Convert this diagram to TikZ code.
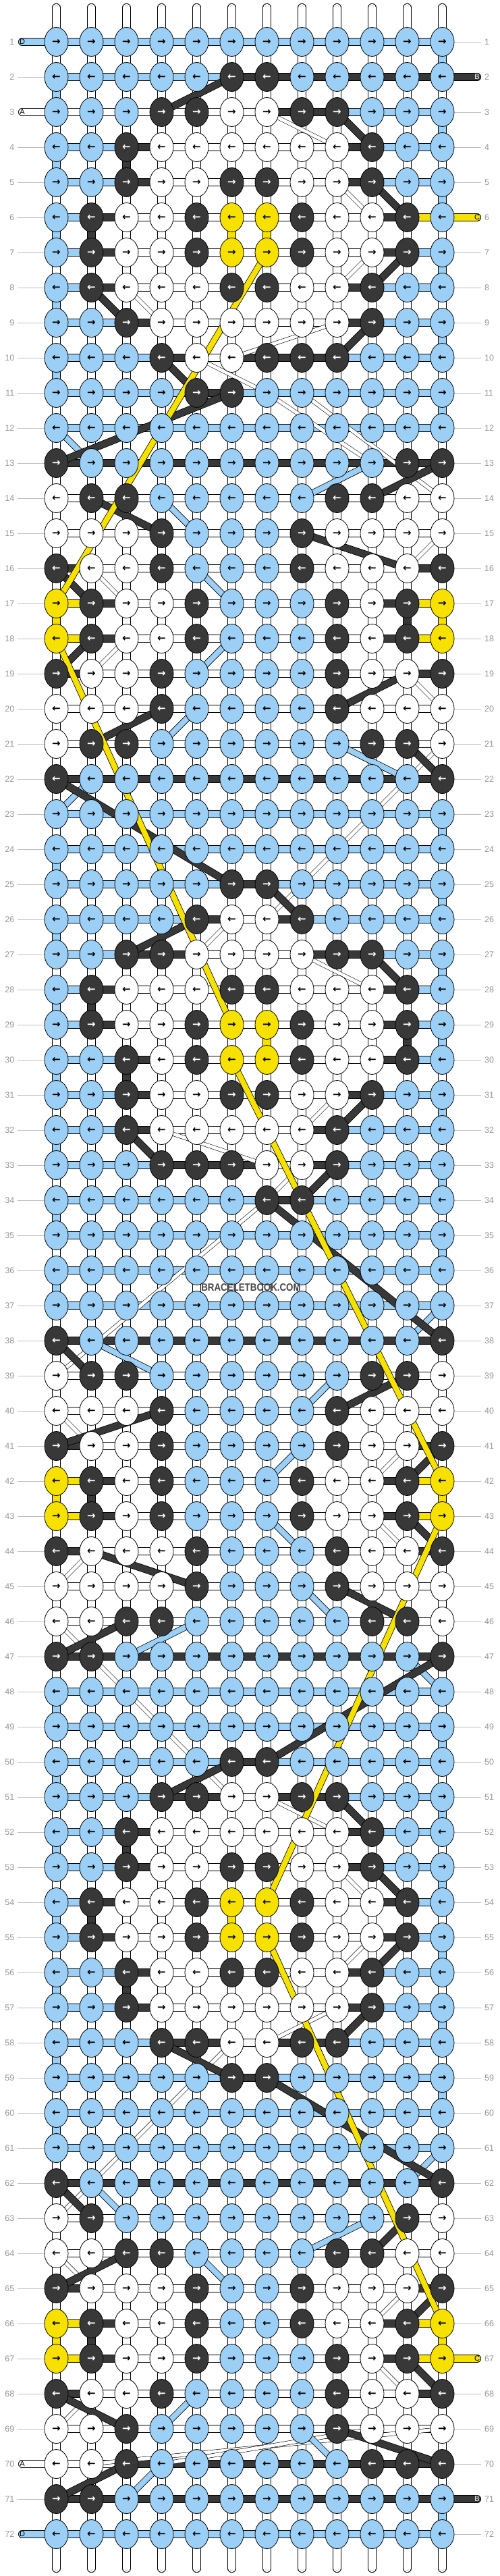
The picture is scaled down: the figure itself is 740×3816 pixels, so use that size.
\documentclass[tikz,border=0pt]{standalone}
\usepackage{fontspec}
\setmainfont{Liberation Sans}
\newfontfamily\arrowfont{DejaVu Sans}
\usetikzlibrary{shapes.geometric}
\definecolor{kL}{RGB}{155,207,245}
\definecolor{kD}{RGB}{56,56,56}
\definecolor{kY}{RGB}{247,225,0}
\definecolor{kW}{RGB}{255,255,255}
\definecolor{labgray}{RGB}{150,150,150}
\definecolor{linegray}{RGB}{190,190,190}
\definecolor{innergray}{RGB}{170,170,170}
\definecolor{wmark}{RGB}{70,70,70}
\makeatletter
\newcommand\forchars[2]{\def\ci{0}\edef\fc@tmp{\noexpand\@tfor\noexpand\ch:=#1\noexpand\do}\fc@tmp{\pgfmathtruncatemacro\ci{\ci+1}#2}}
\makeatother
\newcommand\rowdata{1/LLLLLLLLLLLL/LLLLLLLLLLL,
2/LLLLLDDLLLLL/LLLLLDDDDDD,
3/LLLDDWWDDLLL/WWWWWWDDLLL,
4/LLDWWWWWWDLL/LLDWWWWWDLL,
5/LLDWWDDWWDLL/LLDWWWWWDLL,
6/LDWWDYYDWWDL/LDWWWWWWWDY,
7/LDWWDYYDWWDL/LDWWWWWWWDL,
8/LDWWWDDWWDLL/LDWWWWWWDLL,
9/LLDWWWWWWDLL/LLDWWWWWDLL,
10/LLLDWWDDDLLL/LLLDWDDDLLL,
11/LLLLDDLLLLLL/LLLLDLLLLLL,
12/LLLLLLLLLLLL/LLLLLLLLLLL,
13/DLLLLLLLLLDD/DDDDDDDDDDD,
14/WDDLLLLLDDWW/WWWWWWWWWWW,
15/WWWDLLLDWWWW/WWWWWWWWWWW,
16/DWWDLLLDWWWD/DWWWWWWWWWD,
17/YDWWDLLLDWDY/YDWWWWWWWDY,
18/YDWWDLLLDWDY/YDWWWWWWWDY,
19/DWWDLLLLDWWD/DWWWWWWWWWD,
20/WWWDLLLLDWWW/WWWWWWWWWWW,
21/WDDLLLLLLDDW/WWWWWWWWWWW,
22/DLLLLLLLLLLD/DDDDDDDDDDD,
23/LLLLLLLLLLLL/LLLLLLLLLLL,
24/LLLLLLLLLLLL/LLLLLLLLLLL,
25/LLLLLDDLLLLL/LLLLLDLLLLL,
26/LLLLDWWDLLLL/LLLLDWDLLLL,
27/LLDDWWWWDDLL/LLDDWWWDDLL,
28/LDWWWDDWWWDL/LDWWWWWWWDL,
29/LDWWDYYDWWDL/LDWWWWWWWDL,
30/LLDWDYYDWWDL/LLDWWWWWWDL,
31/LLDWWDDWWDLL/LLDWWWWWDLL,
32/LLDWWWWWDLLL/LLDWWWWDLLL,
33/LLLDDDWWDLLL/LLLDDDWDLLL,
34/LLLLLLDDLLLL/LLLLLLDLLLL,
35/LLLLLLLLLLLL/LLLLLLLLLLL,
36/LLLLLLLLLLLL/LLLLLLLLLLL,
37/LLLLLLLLLLLL/LLLLLLLLLLL,
38/DLLLLLLLLLLD/DDDDDDDDDDD,
39/WDDLLLLLLDDW/WWWWWWWWWWW,
40/WWWDLLLLDWWW/WWWWWWWWWWW,
41/DWWDLLLLDWWD/DWWWWWWWWWD,
42/YDWDLLLDWWDY/YDWWWWWWWDY,
43/YDWDLLLDWWDY/YDWWWWWWWDY,
44/DWWWDLLLDWWD/DWWWWWWWWWD,
45/WWWWDLLLDWWW/WWWWWWWWWWW,
46/WWDDLLLLLDDW/WWWWWWWWWWW,
47/DDLLLLLLLLLD/DDDDDDDDDDD,
48/LLLLLLLLLLLL/LLLLLLLLLLL,
49/LLLLLLLLLLLL/LLLLLLLLLLL,
50/LLLLLDDLLLLL/LLLLLDLLLLL,
51/LLLDDWWDDLLL/LLLDDWDDLLL,
52/LLDWWWWWWDLL/LLDWWWWWDLL,
53/LLDWWDDWWDLL/LLDWWWWWDLL,
54/LDWWDYYDWWDL/LDWWWWWWWDL,
55/LDWWDYYDWWDL/LDWWWWWWWDL,
56/LLDWWDDWWDLL/LLDWWWWWDLL,
57/LLDWWWWWWDLL/LLDWWWWWDLL,
58/LLLDDWWDDLLL/LLLDDWDDLLL,
59/LLLLLDDLLLLL/LLLLLDLLLLL,
60/LLLLLLLLLLLL/LLLLLLLLLLL,
61/LLLLLLLLLLLL/LLLLLLLLLLL,
62/DLLLLLLLLLLD/DDDDDDDDDDD,
63/WDLLLLLLLLDW/WWWWWWWWWWW,
64/WWDDLLLLDDWW/WWWWWWWWWWW,
65/DWWWDLLDWWWD/DWWWWWWWWWD,
66/YDWWDLLDWWDY/YDWWWWWWWDY,
67/YDWWDLLLDWDY/YDWWWWWWWDY,
68/DWWDLLLLDWWD/DWWWWWWWWWD,
69/WWDLLLLLDWWW/WWWWWWWWWWW,
70/WWDLLLLLLDDD/WWDDDDDDDDD,
71/DDLLLLLLLLLL/DDDDDDDDDDD,
72/LLLLLLLLLLLL/LLLLLLLLLLL}
\begin{document}
\begin{tikzpicture}[x=1pt,y=-1pt,
  knot/.style={ellipse, draw=black, line width=0.8pt, minimum width=35pt, minimum height=43pt, inner sep=0pt, font=\arrowfont\bfseries\fontsize{15}{15}\selectfont},
  conn/.style={draw=black, line width=0.8pt, double=#1, double distance=10.5pt},
  tail/.style={conn=#1, line cap=round},
  innerline/.style={draw=innergray, line width=0.6pt, double=white, double distance=4.5pt, line cap=round},
  wdiag/.style={draw=black, line width=0.6pt, double=white, double distance=5pt},
  cdiag/.style={draw=black, line width=0.8pt, double=#1, double distance=8pt},
  ddiag/.style={draw=black, line width=0.8pt, double=kD, double distance=9.5pt},
  gline/.style={draw=linegray, line width=0.9pt},
  rowlab/.style={text=labgray, inner sep=0pt, font=\fontsize{12.5}{12.5}\selectfont},
  taillab/.style={inner sep=0pt, font=\fontsize{11}{11}\selectfont}]
\useasboundingbox (0,0) rectangle (740,3816);
% grid coordinates
\foreach \rr in {1,...,72}{\foreach \cq in {1,...,12}{\coordinate (p-\rr-\cq) at ({83.5+52*(\cq-1)},{62+52*(\rr-1)});}}
% vertical base strings
\foreach \cq in {1,...,12}{
  \coordinate (t-\cq) at ({83.5+52*(\cq-1)},11);
  \coordinate (b-\cq) at ({83.5+52*(\cq-1)},3805);
  \draw[tail=white] (t-\cq) -- (b-\cq);
  \draw[innerline] (t-\cq) -- (b-\cq);
}
% coloured vertical segments
\foreach \rr/\cq in {1/12,3/12,5/12,7/12,9/12,11/12,23/12,25/12,27/12,29/12,31/12,33/12,35/12,49/12,51/12,53/12,55/12,57/12,59/12,71/12,2/1,4/1,6/1,8/1,10/1,24/1,26/1,28/1,30/1,32/1,34/1,36/1,48/1,50/1,52/1,54/1,56/1,58/1,60/1}{
  \pgfmathtruncatemacro\rn{\rr+1}\draw[conn=kL] (p-\rr-\cq) -- (p-\rn-\cq);}
\foreach \rr/\cq in {4/3,6/2,17/11,28/2,29/11,30/3,42/2,52/3,54/2,56/3,66/2}{
  \pgfmathtruncatemacro\rn{\rr+1}\draw[conn=kD] (p-\rr-\cq) -- (p-\rn-\cq);}
\foreach \rr/\cq in {6/6,6/7,17/1,17/12,29/7,42/1,42/12,54/6,66/1,66/12}{
  \pgfmathtruncatemacro\rn{\rr+1}\draw[conn=kY] (p-\rr-\cq) -- (p-\rn-\cq);}
% horizontal segments
\foreach \rr/\kn/\gp in \rowdata{\forchars\gp{\pgfmathtruncatemacro\cn{\ci+1}\edef\cc{k\ch}\draw[conn=\cc] (p-\rr-\ci) -- (p-\rr-\cn);}}
% grey row lines
\foreach \rr in {2,4,5,...,69,71}{\coordinate (gl-\rr) at (26,{62+52*(\rr-1)});\draw[gline] (gl-\rr) -- (p-\rr-1);}
\foreach \rr in {1,3,4,5,7,8,...,66,68,69,70,72}{\coordinate (gr-\rr) at (713,{62+52*(\rr-1)});\draw[gline] (p-\rr-12) -- (gr-\rr);}
% string tails
\foreach \rr/\tcol in {1/kL,3/kW,70/kW,72/kL}{\coordinate (tl-\rr) at (33,{62+52*(\rr-1)});\draw[tail=\tcol] (tl-\rr) -- (p-\rr-1);}
\foreach \rr/\tcol in {2/kD,6/kY,67/kY,71/kD}{\coordinate (tr-\rr) at (707,{62+52*(\rr-1)});\draw[tail=\tcol] (p-\rr-12) -- (tr-\rr);}
% floating strings
\foreach \ra/\ca/\rb/\cb in {3/7/4/9,5/9/6/10,7/10/8/9,8/3/9/4,9/9/10/6,10/5/11/7,11/7/13/10,11/8/14/12,15/12/16/11,16/2/17/3,18/3/19/2,19/11/20/12,21/12/22/11,22/11/26/7,26/6/27/5,27/8/28/10,31/9/32/8,32/4/33/7,33/8/34/7,34/7/39/1,40/1/41/2,41/11/42/10,43/10/44/11,44/2/45/1,46/1/47/2,47/2/51/6,51/7/52/9,53/9/54/10,55/10/56/9,57/9/58/7,58/6/63/1,64/1/65/2,65/11/66/10,67/10/68/11,68/2/69/1,69/12/70/2,69/10/70/4}{\draw[wdiag] (p-\ra-\ca) -- (p-\rb-\cb);}
\foreach \ra/\ca/\rb/\cb in {12/1/13/2,13/10/14/8,14/4/15/5,16/5/17/6,18/6/19/5,20/5/21/4,21/9/22/11,22/2/23/1,37/12/38/11,38/2/39/4,39/9/40/8,41/8/42/7,43/7/44/8,45/8/46/9,46/5/47/3,47/11/48/12,61/12/62/11,62/2/63/3,63/10/64/8,64/5/65/6,68/5/69/4,69/8/70/9,70/4/71/3}{\draw[cdiag=kL] (p-\ra-\ca) -- (p-\rb-\cb);}
\foreach \ra/\ca/\rb/\cb in {2/6/3/4,3/9/4/10,5/10/6/11,7/11/8/10,9/10/10/9,8/2/9/3,10/4/11/5,11/6/13/1,13/12/14/10,14/2/15/4,15/8/16/11,16/1/17/2,18/2/19/1,19/11/20/9,20/4/21/2,21/11/22/12,22/1/25/6,25/7/26/8,26/5/27/3,27/10/28/11,31/10/32/9,32/3/33/4,33/9/34/8,34/7/38/12,38/1/39/2,39/11/40/9,40/4/41/1,41/12/42/11,43/11/44/12,44/2/45/5,45/9/46/11,46/3/47/1,47/12/50/7,50/6/51/4,51/9/52/10,53/10/54/11,55/11/56/10,57/10/58/9,58/4/59/6,59/7/62/12,62/1/63/2,63/11/64/10,64/3/65/1,65/12/66/11,67/11/68/12,68/1/69/3,69/9/70/12,70/3/71/1}{\draw[ddiag] (p-\ra-\ca) -- (p-\rb-\cb);}
\foreach \ra/\ca/\rb/\cb in {7/7/17/1,18/1/29/6,30/6/42/12,43/12/54/7,55/7/66/12}{\draw[cdiag=kY] (p-\ra-\ca) -- (p-\rb-\cb);}
% knots
\foreach \rr/\kn/\gp in \rowdata{\pgfmathtruncatemacro\od{mod(\rr,2)}\forchars\kn{\edef\cc{k\ch}\def\ac{black}\if D\ch\def\ac{white}\fi\node[knot, fill=\cc, text=\ac] (k-\rr-\ci) at (p-\rr-\ci) {\ifnum\od=1 →\else ←\fi};}}
% row numbers
\foreach \rr in {1,...,72}{
  \node[rowlab, anchor=east] (nl-\rr) at (21.5,{62+52*(\rr-1)}) {\rr};
  \node[rowlab, anchor=west] (nr-\rr) at (718,{62+52*(\rr-1)}) {\rr};}
% tail letters
\foreach \rr/\tlet/\txc in {1/D/black,3/A/black,70/A/black,72/D/black}{\node[taillab, text=\txc] (ltl-\rr) at (tl-\rr) {\tlet};}
\foreach \rr/\tlet/\txc in {2/B/white,6/C/black,67/C/black,71/B/white}{\node[taillab, text=\txc] (ltr-\rr) at (tr-\rr) {\tlet};}
% watermark
\node[inner sep=0pt, text=wmark, font=\bfseries\fontsize{15.5}{15.5}\selectfont, xscale=0.86] (wm) at (372,1907) {BRACELETBOOK.COM};
\end{tikzpicture}
\end{document}
